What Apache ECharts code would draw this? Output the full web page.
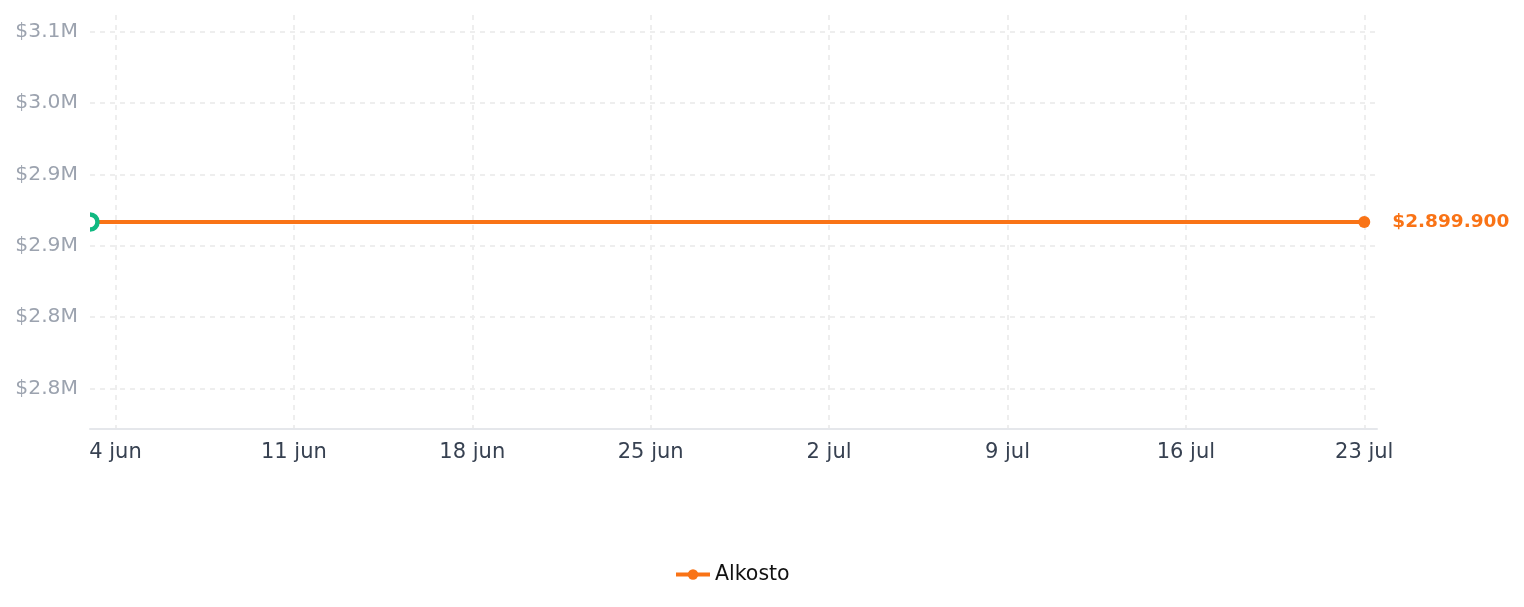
<!DOCTYPE html>
<html>
<head>
<meta charset="utf-8">
<script src="https://cdn.jsdelivr.net/npm/echarts@6/dist/echarts.min.js"></script>
<style>
  html, body { margin: 0; padding: 0; background: #fff; }
  #chart { width: 1524px; height: 607px; }
</style>
</head>
<body>
<div id="chart"></div>
<script>
// data
const storeName = "Alkosto";
const dates = ["2025-06-03", "2025-07-23"];
const prices = [2899900, 2899900];
const yTicks = [2760000, 2820000, 2880000, 2940000, 3000000, 3060000];
const xTicks = ["2025-06-04", "2025-06-11", "2025-06-18", "2025-06-25", "2025-07-02", "2025-07-09", "2025-07-16", "2025-07-23"];
const months = ["ene", "feb", "mar", "abr", "may", "jun", "jul", "ago", "sep", "oct", "nov", "dic"];

function toTime(s) {
  const p = s.split("-");
  return new Date(+p[0], +p[1] - 1, +p[2]).getTime();
}
function fmtPrice(v) {
  return "$" + Math.round(v).toString().replace(/\B(?=(\d{3})+(?!\d))/g, ".");
}

const points = dates.map((d, i) => [toTime(d), prices[i]]);
const last = points.length - 1;

let my_chart = echarts.init(document.getElementById("chart"));
my_chart.setOption({
  animation: false,
  grid: { left: 90, right: 147, top: 15, bottom: 178 },
  legend: {
    bottom: 22,
    left: 674,
    padding: 0,
    data: [storeName],
    itemWidth: 34,
    itemHeight: 13,
    itemGap: 10,
    lineStyle: { width: 4 },
    textStyle: { color: "#111", fontSize: 20.5, fontFamily: "DejaVu Sans" }
  },
  xAxis: {
    type: "value",
    min: toTime(dates[0]),
    max: toTime(dates[1]) + 12 * 3600 * 1000,
    axisLine: { show: true, lineStyle: { color: "#e5e7eb", width: 2 } },
    axisTick: { show: false, customValues: xTicks.map(toTime) },
    axisLabel: {
      customValues: xTicks.map(toTime),
      margin: 13,
      color: "#374151",
      fontSize: 21,
      fontFamily: "DejaVu Sans",
      formatter: function (v) {
        const d = new Date(v);
        return d.getDate() + " " + months[d.getMonth()];
      }
    },
    splitLine: { show: true, lineStyle: { color: "#eeeeee", type: [5, 5], width: 2 } }
  },
  yAxis: {
    type: "value",
    min: prices[0] * 0.94,
    max: prices[0] * 1.06,
    axisLine: { show: false },
    axisTick: { show: false, customValues: yTicks },
    axisLabel: {
      customValues: yTicks,
      margin: 12,
      padding: [4, 0, 0, 0],
      color: "#9ca3af",
      fontSize: 20.3,
      fontFamily: "DejaVu Sans",
      formatter: function (v) { return "$" + (v / 1e6).toFixed(1) + "M"; }
    },
    splitLine: { show: true, lineStyle: { color: "#eeeeee", type: [5, 5], width: 2 } }
  },
  series: [
    {
      name: storeName,
      type: "line",
      color: "#f97316",
      symbol: "circle",
      symbolSize: 12,
      lineStyle: { width: 4, color: "#f97316" },
      itemStyle: { color: "#f97316" },
      data: points.map((p, i) => i === last
        ? {
            value: p,
            label: {
              show: true,
              position: "right",
              distance: 22,
              color: "#f97316",
              fontWeight: "bold",
              fontSize: 18.5,
              fontFamily: "DejaVu Sans",
              formatter: (o) => fmtPrice(o.value[1])
            }
          }
        : { value: p, symbol: "none" })
    },
    {
      // start marker, clipped by the grid like in the original
      type: "custom",
      clip: true,
      z: 5,
      data: [points[0]],
      renderItem: function (params, api) {
        const c = api.coord([api.value(0), api.value(1)]);
        return {
          type: "circle",
          shape: { cx: c[0], cy: c[1], r: 7.5 },
          style: { fill: "#fff", stroke: "#10b981", lineWidth: 4.5 }
        };
      }
    }
  ]
});
</script>
</body>
</html>
